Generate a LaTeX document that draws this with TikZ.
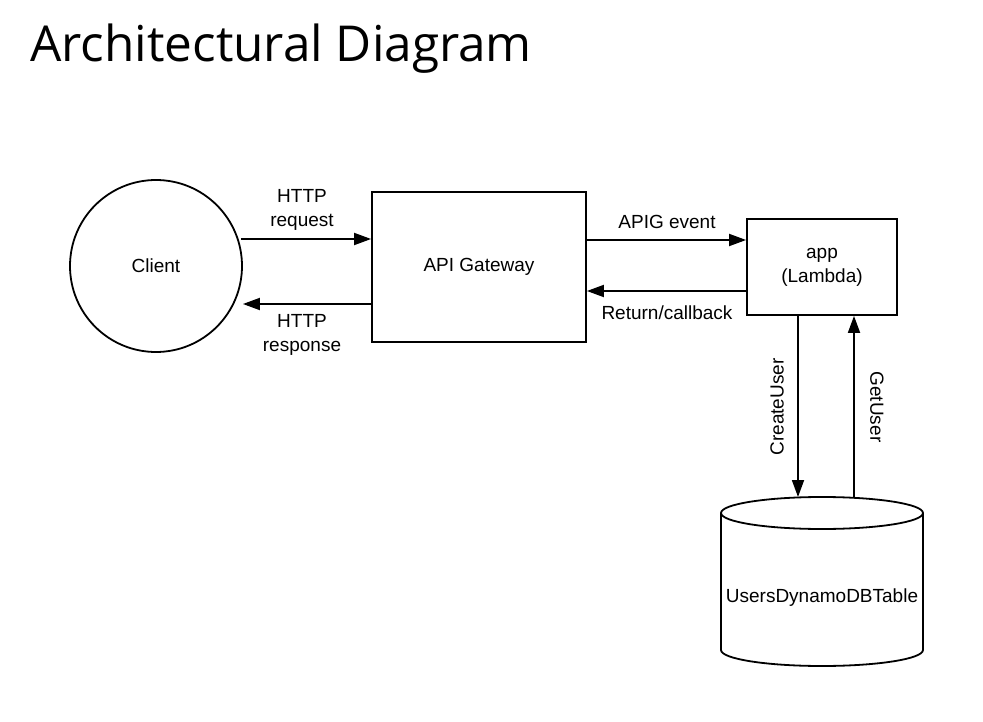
\documentclass[tikz,border=0pt]{standalone}
\usepackage{fontspec}
\setmainfont{Liberation Sans}
\newfontfamily\titlefont{Open Sans}
\usetikzlibrary{arrows.meta}
\begin{document}
\begin{tikzpicture}[x=1pt,y=-1pt,
  lbl/.style={font=\fontsize{19}{22}\selectfont,align=center,inner sep=0pt},
  conn/.style={line width=1.8pt,-{Triangle[length=17pt,width=12pt]}}]
\useasboundingbox (0,0) rectangle (983,722);
\node[anchor=base west,inner sep=0pt,font=\titlefont\fontsize{49.5}{60}\selectfont] (title) at (30,62) {Architectural Diagram};
% client
\node[draw,circle,line width=1.8pt,minimum size=172pt,inner sep=0pt,lbl] (client) at (156,266) {Client};
% API gateway
\node[draw,line width=1.8pt,minimum width=214pt,minimum height=150pt,inner sep=0pt,lbl] (apig) at (479,267) {API Gateway};
% app
\node[draw,line width=1.8pt,minimum width=150pt,minimum height=96pt,inner sep=0pt,lbl] (app) at (822,267) {app\\[2pt](Lambda)};
% cylinder
\def\cx{822}\def\rx{101}\def\ry{16}\def\ytop{513}\def\ybot{650}
\draw[line width=1.8pt] (\cx,\ytop) ellipse [x radius=\rx,y radius=\ry];
\draw[line width=1.8pt] (\cx-\rx,\ytop) -- (\cx-\rx,\ybot) arc[start angle=180,end angle=360,x radius=\rx,y radius=-\ry] -- (\cx+\rx,\ytop);
\node[lbl] (db) at (\cx,598) {UsersDynamoDBTable};
\coordinate (dbA) at (798,497);
\coordinate (dbB) at (854,498);
% connectors
\draw[conn] (client.east |- 0,239) ++(-2,0) coordinate (c1) -- (apig.west |- c1);
\draw[conn] (apig.west |- 0,304) -- (client.east |- 0,304);
\draw[conn] (apig.east |- 0,240) -- (app.west |- 0,240);
\draw[conn] (app.west |- 0,291) -- (apig.east |- 0,291);
\draw[conn] (app.south -| dbA) -- (dbA);
\draw[conn] (dbB) -- (app.south -| dbB);
% labels
\node[lbl] (l1) at (302,210) {HTTP\\[2pt]request};
\node[lbl] (l2) at (302,335) {HTTP\\[2pt]response};
\node[lbl] (l3) at (667,222) {APIG event};
\node[lbl] (l4) at (667,313) {Return/callback};
\node[lbl,rotate=90] (l5) at (777,407) {CreateUser};
\node[lbl,rotate=-90] (l6) at (877,407) {GetUser};
\end{tikzpicture}
\end{document}
